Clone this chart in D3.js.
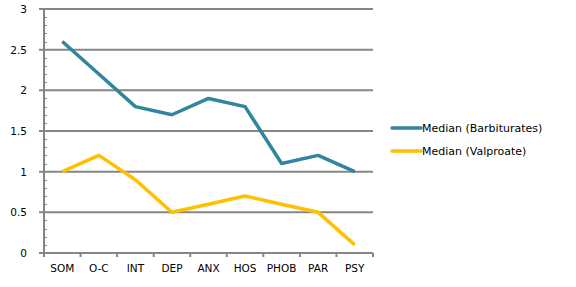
<!DOCTYPE html>
<html>
<head>
<meta charset="utf-8">
<script src="https://cdn.jsdelivr.net/npm/d3@7"></script>
<style>
  body { margin: 0; background: #fff; }
  svg { display: block; font-family: "DejaVu Sans", "Liberation Sans", sans-serif; }
  .tick-label { font-size: 10.5px; fill: #000; }
  .legend-label { font-size: 11px; fill: #000; }
</style>
</head>
<body>
<div id="chart"></div>
<script>
(function() {
    'use strict';

    // Data
    var categories = ['SOM', 'O-C', 'INT', 'DEP', 'ANX', 'HOS', 'PHOB', 'PAR', 'PSY'];
    var barbiturates = [2.6, 2.2, 1.8, 1.7, 1.9, 1.8, 1.1, 1.2, 1.0];
    var valproate = [1.0, 1.2, 0.9, 0.5, 0.6, 0.7, 0.6, 0.5, 0.1];
    var yTicks = [0, 0.5, 1, 1.5, 2, 2.5, 3];
    var seriesNames = ['Median (Barbiturates)', 'Median (Valproate)'];
    var seriesColors = ['#31859C', '#FFC000'];

    var width = 576, height = 287;
    var left = 44, right = 373, top = 9, bottom = 253;
    var gridColor = '#868686';

    var svg = d3.select('#chart').append('svg')
        .attr('width', width)
        .attr('height', height);

    var x = d3.scaleBand().domain(categories).range([left, right]).padding(0);
    var y = d3.scaleLinear().domain([0, 3]).range([bottom, top]);

    // Gridlines (major)
    svg.selectAll('.grid')
        .data(yTicks)
        .join('line')
        .attr('x1', left - 5)
        .attr('x2', right)
        .attr('y1', function(d) { return y(d); })
        .attr('y2', function(d) { return y(d); })
        .attr('stroke', gridColor)
        .attr('stroke-width', 2);

    // Minor ticks every 0.1
    var minor = d3.range(0, 31).map(function(i) { return i / 10; })
        .filter(function(v) { return Math.round(v * 10) % 5 !== 0; });
    svg.selectAll('.minor')
        .data(minor)
        .join('line')
        .attr('x1', left)
        .attr('x2', left + 3)
        .attr('y1', function(d) { return Math.round(y(d)) + 0.5; })
        .attr('y2', function(d) { return Math.round(y(d)) + 0.5; })
        .attr('stroke', gridColor)
        .attr('stroke-width', 1);

    // Y axis line
    svg.append('line')
        .attr('x1', left).attr('x2', left)
        .attr('y1', top).attr('y2', bottom + 4)
        .attr('stroke', gridColor)
        .attr('stroke-width', 2);

    // X ticks at band boundaries
    var boundaries = categories.map(function(c) { return x(c); }).concat([right]);
    svg.selectAll('.xtick')
        .data(boundaries)
        .join('line')
        .attr('x1', function(d) { return d; })
        .attr('x2', function(d) { return d; })
        .attr('y1', bottom)
        .attr('y2', bottom + 4)
        .attr('stroke', gridColor)
        .attr('stroke-width', 2);

    // Y labels
    svg.selectAll('.ylab')
        .data(yTicks)
        .join('text')
        .attr('class', 'tick-label')
        .attr('x', 27)
        .attr('y', function(d) { return y(d) + 4; })
        .attr('text-anchor', 'end')
        .text(function(d) { return d; });

    // X labels
    svg.selectAll('.xlab')
        .data(categories)
        .join('text')
        .attr('class', 'tick-label')
        .attr('x', function(d) { return x(d) + x.bandwidth() / 2; })
        .attr('y', 272)
        .attr('text-anchor', 'middle')
        .text(function(d) { return d; });

    // Lines
    var line = d3.line()
        .x(function(d, i) { return x(categories[i]) + x.bandwidth() / 2; })
        .y(function(d) { return y(d); });

    [barbiturates, valproate].forEach(function(s, i) {
        svg.append('path')
            .datum(s)
            .attr('d', line)
            .attr('fill', 'none')
            .attr('stroke', seriesColors[i])
            .attr('stroke-width', 3.5)
            .attr('stroke-linejoin', 'round');
    });

    // Legend
    var legendY = [128, 151];
    seriesNames.forEach(function(name, i) {
        svg.append('line')
            .attr('x1', 392).attr('x2', 421)
            .attr('y1', legendY[i]).attr('y2', legendY[i])
            .attr('stroke', seriesColors[i])
            .attr('stroke-width', 3.5)
            .attr('stroke-linecap', 'round');
        svg.append('text')
            .attr('class', 'legend-label')
            .attr('x', 422)
            .attr('y', legendY[i] + 4)
            .text(name);
    });
})();
</script>
</body>
</html>
